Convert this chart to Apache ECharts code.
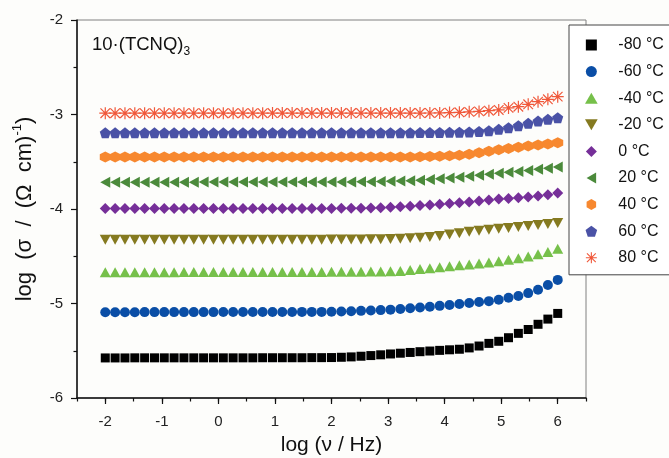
<!DOCTYPE html>
<html>
<head>
<meta charset="utf-8">
<script src="https://cdn.jsdelivr.net/npm/echarts@6/dist/echarts.min.js"></script>
<style>
  html, body { margin: 0; padding: 0; background: #fdfdfb; }
  #main { width: 669px; height: 458px; }
</style>
</head>
<body>
<div id="main"></div>
<script>
var fontName = '"Liberation Sans", Arial, sans-serif';

// log(frequency / Hz), same grid for every temperature
var logFreq = [-2.000, -1.826, -1.652, -1.478, -1.304, -1.130, -0.957, -0.783, -0.609, -0.435,
  -0.261, -0.087, 0.087, 0.261, 0.435, 0.609, 0.783, 0.957, 1.130, 1.304,
  1.478, 1.652, 1.826, 2.000, 2.174, 2.348, 2.522, 2.696, 2.870, 3.043,
  3.217, 3.391, 3.565, 3.739, 3.913, 4.087, 4.261, 4.435, 4.609, 4.783,
  4.957, 5.130, 5.304, 5.478, 5.652, 5.826, 6.000];

var sigmaM80 = [-5.576, -5.576, -5.576, -5.575, -5.575, -5.575, -5.575, -5.575, -5.575, -5.575,
  -5.575, -5.575, -5.575, -5.575, -5.575, -5.575, -5.574, -5.574, -5.574, -5.574,
  -5.574, -5.573, -5.573, -5.572, -5.569, -5.565, -5.558, -5.551, -5.543, -5.534,
  -5.526, -5.518, -5.510, -5.503, -5.496, -5.490, -5.484, -5.470, -5.450, -5.422,
  -5.400, -5.362, -5.316, -5.275, -5.220, -5.165, -5.105];
var sigmaM60 = [-5.092, -5.092, -5.092, -5.092, -5.091, -5.091, -5.091, -5.091, -5.091, -5.091,
  -5.091, -5.091, -5.090, -5.090, -5.090, -5.090, -5.090, -5.090, -5.090, -5.090,
  -5.089, -5.089, -5.089, -5.088, -5.085, -5.082, -5.078, -5.074, -5.070, -5.065,
  -5.058, -5.050, -5.042, -5.035, -5.025, -5.015, -5.005, -4.995, -4.985, -4.975,
  -4.960, -4.940, -4.920, -4.890, -4.855, -4.805, -4.750];
var sigmaM40 = [-4.668, -4.668, -4.668, -4.668, -4.668, -4.668, -4.668, -4.668, -4.667, -4.667,
  -4.667, -4.667, -4.667, -4.667, -4.667, -4.667, -4.667, -4.667, -4.667, -4.667,
  -4.666, -4.666, -4.666, -4.665, -4.665, -4.664, -4.663, -4.662, -4.661, -4.659,
  -4.655, -4.646, -4.636, -4.626, -4.616, -4.606, -4.596, -4.586, -4.576, -4.565,
  -4.552, -4.537, -4.520, -4.502, -4.480, -4.455, -4.420];
var sigmaM20 = [-4.326, -4.326, -4.326, -4.326, -4.326, -4.326, -4.326, -4.326, -4.326, -4.326,
  -4.326, -4.326, -4.326, -4.326, -4.326, -4.326, -4.325, -4.325, -4.325, -4.325,
  -4.325, -4.325, -4.325, -4.324, -4.324, -4.323, -4.322, -4.321, -4.320, -4.318,
  -4.315, -4.310, -4.305, -4.296, -4.285, -4.271, -4.256, -4.242, -4.231, -4.220,
  -4.210, -4.200, -4.190, -4.180, -4.170, -4.160, -4.148];
var sigma0 = [-3.996, -3.996, -3.996, -3.996, -3.996, -3.996, -3.996, -3.996, -3.996, -3.996,
  -3.996, -3.996, -3.996, -3.995, -3.995, -3.995, -3.995, -3.995, -3.995, -3.995,
  -3.995, -3.995, -3.994, -3.994, -3.993, -3.992, -3.991, -3.989, -3.986, -3.982,
  -3.976, -3.970, -3.964, -3.957, -3.950, -3.943, -3.935, -3.925, -3.915, -3.905,
  -3.895, -3.889, -3.882, -3.873, -3.862, -3.848, -3.830];
var sigma20 = [-3.716, -3.716, -3.716, -3.716, -3.716, -3.716, -3.716, -3.716, -3.716, -3.716,
  -3.715, -3.715, -3.715, -3.715, -3.715, -3.715, -3.715, -3.715, -3.715, -3.715,
  -3.715, -3.715, -3.714, -3.714, -3.714, -3.713, -3.712, -3.711, -3.709, -3.707,
  -3.704, -3.700, -3.695, -3.688, -3.680, -3.672, -3.663, -3.653, -3.643, -3.633,
  -3.622, -3.612, -3.602, -3.592, -3.580, -3.568, -3.556];
var sigma40 = [-3.451, -3.451, -3.451, -3.451, -3.451, -3.451, -3.451, -3.451, -3.451, -3.451,
  -3.451, -3.451, -3.451, -3.450, -3.450, -3.450, -3.450, -3.450, -3.450, -3.450,
  -3.450, -3.450, -3.450, -3.450, -3.450, -3.450, -3.450, -3.450, -3.450, -3.450,
  -3.450, -3.449, -3.447, -3.445, -3.442, -3.437, -3.430, -3.420, -3.405, -3.388,
  -3.372, -3.359, -3.347, -3.334, -3.323, -3.311, -3.298];
var sigma60 = [-3.193, -3.193, -3.193, -3.193, -3.193, -3.193, -3.193, -3.193, -3.193, -3.193,
  -3.193, -3.193, -3.193, -3.193, -3.192, -3.192, -3.192, -3.192, -3.192, -3.192,
  -3.192, -3.192, -3.192, -3.192, -3.192, -3.192, -3.192, -3.192, -3.192, -3.192,
  -3.192, -3.192, -3.191, -3.191, -3.190, -3.189, -3.187, -3.184, -3.179, -3.171,
  -3.157, -3.139, -3.118, -3.093, -3.069, -3.051, -3.034];
var sigma80 = [-2.986, -2.986, -2.986, -2.986, -2.986, -2.986, -2.986, -2.986, -2.986, -2.986,
  -2.986, -2.986, -2.986, -2.986, -2.986, -2.986, -2.986, -2.985, -2.985, -2.985,
  -2.985, -2.985, -2.985, -2.985, -2.985, -2.985, -2.985, -2.985, -2.985, -2.985,
  -2.985, -2.985, -2.985, -2.984, -2.983, -2.980, -2.977, -2.972, -2.967, -2.960,
  -2.952, -2.930, -2.917, -2.892, -2.864, -2.839, -2.811];

var tempNames = ['-80 °C', '-60 °C', '-40 °C', '-20 °C', '0 °C', '20 °C', '40 °C', '60 °C', '80 °C'];
var xMajorTicks = [-2, -1, 0, 1, 2, 3, 4, 5, 6];

var SQUARE = 'path://M0,0 L10,0 L10,10 L0,10 Z';
var TRI_UP = 'path://M5,0 L10,8.66 L0,8.66 Z';
var TRI_DOWN = 'path://M0,0 L10,0 L5,8.66 Z';
var TRI_LEFT = 'path://M8.66,0 L8.66,10 L0,5 Z';
var DIAMOND = 'path://M5,0 L10,5 L5,10 L0,5 Z';
var HEXAGON = 'path://M5,0 L9.33,2.5 L9.33,7.5 L5,10 L0.67,7.5 L0.67,2.5 Z';
var PENTAGON = 'path://M5,0 L10,3.8 L8.1,9.5 L1.9,9.5 L0,3.8 Z';
var ASTERISK = 'path://M0,4.5 L10,4.5 L10,5.5 L0,5.5 Z M4.5,0 L5.5,0 L5.5,10 L4.5,10 Z ' +
  'M1.35,0.65 L9.35,8.65 L8.65,9.35 L0.65,1.35 Z M8.65,0.65 L9.35,1.35 L1.35,9.35 L0.65,8.65 Z';

function pairs(ys) {
  var out = [];
  for (var i = 0; i < logFreq.length; i++) {
    out.push([logFreq[i], ys[i]]);
  }
  return out;
}

function makeSeries(name, ys, symbol, size, color) {
  return {
    name: name,
    type: 'scatter',
    xAxisIndex: 0,
    yAxisIndex: 0,
    data: pairs(ys),
    symbol: symbol,
    symbolSize: size,
    itemStyle: { color: color, opacity: 1 },
    emphasis: { disabled: true }
  };
}

var myChart = echarts.init(document.getElementById('main'));

var option = {
  backgroundColor: '#fdfdfb',
  animation: false,
  textStyle: { fontFamily: fontName },
  title: {
    text: '10·(TCNQ){sub|3}',
    left: 92,
    top: 32,
    padding: 0,
    textStyle: {
      fontFamily: fontName,
      fontSize: 18.5,
      fontWeight: 'normal',
      color: '#111',
      lineHeight: 26,
      rich: {
        sub: { fontSize: 12, fontFamily: fontName, color: '#111', verticalAlign: 'bottom', lineHeight: 12 }
      }
    }
  },
  grid: {
    left: 77,
    right: 83,
    top: 20,
    bottom: 60,
    outerBoundsMode: 'none',
    show: true,
    borderColor: '#808080',
    borderWidth: 1,
    backgroundColor: 'transparent'
  },
  legend: {
    orient: 'vertical',
    left: 569,
    top: 25,
    padding: [12, 10, 9, 16],
    itemWidth: 44,
    itemHeight: 11,
    itemGap: 10.6,
    backgroundColor: '#ffffff',
    borderColor: '#444',
    borderWidth: 1,
    borderRadius: 0,
    textStyle: { fontFamily: fontName, fontSize: 16, color: '#111' },
    data: tempNames
  },
  xAxis: [{
    type: 'value',
    position: 'bottom',
    min: -2.5,
    max: 6.5,
    interval: 0.5,
    name: 'log (ν / Hz)',
    nameLocation: 'middle',
    nameGap: 37,
    nameTextStyle: { fontFamily: fontName, fontSize: 21, color: '#111' },
    axisLine: { show: true, onZero: false, lineStyle: { color: '#111', width: 1.5 } },
    axisTick: { show: true, length: 3.5, lineStyle: { color: '#111', width: 1.2 } },
    axisLabel: {
      customValues: xMajorTicks,
      margin: 16,
      fontFamily: fontName,
      fontSize: 15,
      color: '#222'
    },
    splitLine: { show: false }
  }, {
    type: 'value',
    position: 'bottom',
    min: -2.5,
    max: 6.5,
    axisLine: { show: false },
    axisTick: { show: true, customValues: xMajorTicks, length: 6, lineStyle: { color: '#111', width: 1.2 } },
    axisLabel: { show: false },
    splitLine: { show: false }
  }],
  yAxis: {
    type: 'value',
    min: -6,
    max: -2,
    interval: 1,
    name: 'log  (σ  /  (Ω  cm){sup|-1})',
    nameLocation: 'middle',
    nameGap: 31,
    nameTextStyle: {
      fontFamily: fontName,
      fontSize: 22,
      color: '#111',
      lineHeight: 28,
      rich: {
        sup: { fontSize: 13, fontFamily: fontName, color: '#111', verticalAlign: 'top', lineHeight: 14 }
      }
    },
    axisLine: { show: true, onZero: false, lineStyle: { color: '#111', width: 1.5 } },
    axisTick: { show: true, length: 6, lineStyle: { color: '#111', width: 1.2 } },
    minorTick: { show: true, splitNumber: 2, length: 3.5, lineStyle: { color: '#111', width: 1.2 } },
    axisLabel: { margin: 14, fontFamily: fontName, fontSize: 15, color: '#222' },
    splitLine: { show: false }
  },
  series: [
    makeSeries(tempNames[0], sigmaM80, SQUARE, 9, '#000000'),
    makeSeries(tempNames[1], sigmaM60, 'circle', 10, '#0a4ea6'),
    makeSeries(tempNames[2], sigmaM40, TRI_UP, [11, 10], '#76c04a'),
    makeSeries(tempNames[3], sigmaM20, TRI_DOWN, [11, 10], '#857a20'),
    makeSeries(tempNames[4], sigma0, DIAMOND, 11, '#762f99'),
    makeSeries(tempNames[5], sigma20, TRI_LEFT, [10, 11], '#4b8a3b'),
    makeSeries(tempNames[6], sigma40, HEXAGON, 11, '#f7882f'),
    makeSeries(tempNames[7], sigma60, PENTAGON, 11, '#4a52a6'),
    makeSeries(tempNames[8], sigma80, ASTERISK, 12, '#f0583a')
  ]
};

myChart.setOption(option);

window.addEventListener('resize', function () {
  myChart.resize();
});
</script>
</body>
</html>
